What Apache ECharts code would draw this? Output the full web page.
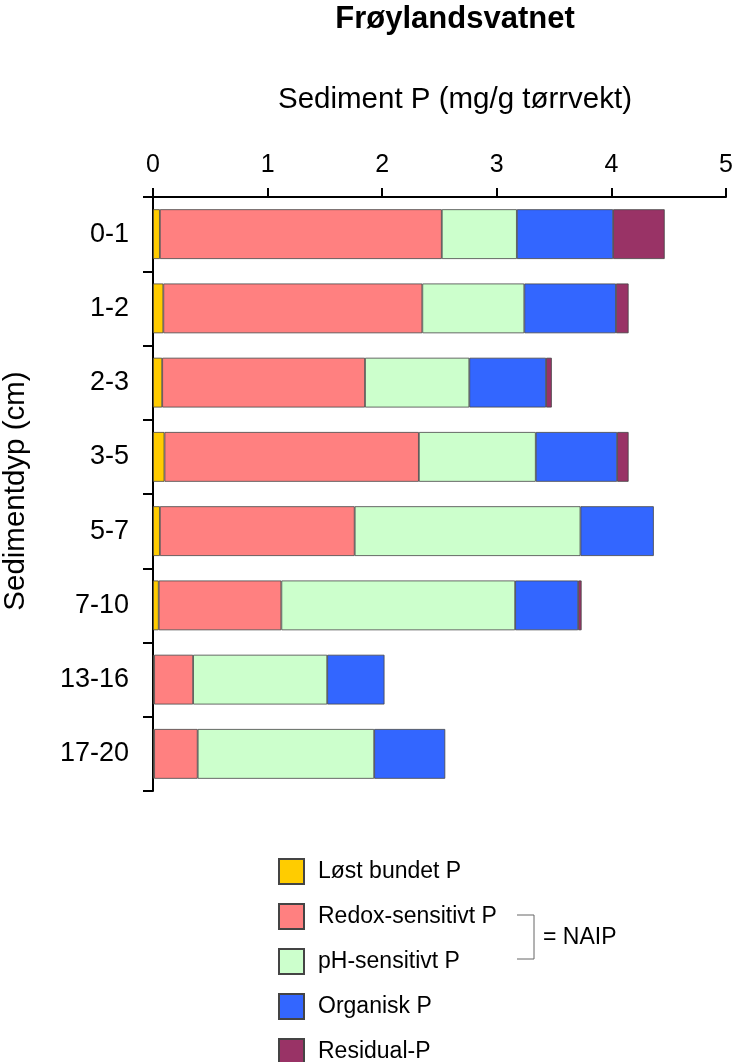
<!DOCTYPE html>
<html>
<head>
<meta charset="utf-8">
<script src="https://cdn.jsdelivr.net/npm/echarts@6/dist/echarts.min.js"></script>
<style>
html,body{margin:0;padding:0;background:#fff;}
#chart{width:733px;height:1062px;}
</style>
</head>
<body>
<div id="chart"></div>
<script>
const categories = ['0-1', '1-2', '2-3', '3-5', '5-7', '7-10', '13-16', '17-20'];
const seriesNames = ['Løst bundet P', 'Redox-sensitivt P', 'pH-sensitivt P', 'Organisk P', 'Residual-P'];
const lostBundet = [0.06, 0.09, 0.08, 0.10, 0.06, 0.05, 0.01, 0.01];
const redoxSensitivt = [2.46, 2.26, 1.77, 2.22, 1.70, 1.07, 0.34, 0.38];
const phSensitivt = [0.655, 0.89, 0.91, 1.02, 1.97, 2.04, 1.17, 1.54];
const organisk = [0.84, 0.80, 0.67, 0.71, 0.64, 0.55, 0.50, 0.62];
const residual = [0.45, 0.11, 0.05, 0.10, 0, 0.03, 0, 0];
const xTicks = [0, 1, 2, 3, 4, 5];
const colors = ['#FFCC00', '#FF8080', '#CCFFCC', '#3366FF', '#993366'];

const FONT = 'Liberation Sans, Arial, Helvetica, sans-serif';
const valuesList = [lostBundet, redoxSensitivt, phSensitivt, organisk, residual];

const chart = echarts.init(document.getElementById('chart'), null, {renderer: 'canvas'});
chart.setOption({
  backgroundColor: '#ffffff',
  animation: false,
  textStyle: {fontFamily: FONT, color: '#000'},
  title: {
    text: 'Frøylandsvatnet',
    left: 455,
    top: 4,
    textAlign: 'center',
    padding: 0,
    textStyle: {fontFamily: FONT, fontSize: 31, fontWeight: 'bold', color: '#000'}
  },
  grid: {left: 153, right: 7, top: 197, bottom: 271, containLabel: false, outerBoundsMode: 'none'},
  xAxis: {
    type: 'value',
    position: 'top',
    min: xTicks[0],
    max: xTicks[xTicks.length - 1],
    interval: 1,
    name: 'Sediment P (mg/g tørrvekt)',
    nameLocation: 'middle',
    nameGap: 82,
    nameTextStyle: {fontFamily: FONT, fontSize: 29.5, color: '#000', padding: [0, 0, 0, 31]},
    axisLine: {show: true, lineStyle: {color: '#000', width: 2}},
    axisTick: {show: true, length: 9, lineStyle: {color: '#000', width: 2}},
    axisLabel: {fontFamily: FONT, fontSize: 25, color: '#000', margin: 19},
    splitLine: {show: false}
  },
  yAxis: {
    type: 'category',
    data: categories,
    inverse: true,
    name: 'Sedimentdyp (cm)',
    nameLocation: 'middle',
    nameRotate: 90,
    nameGap: 122,
    nameTextStyle: {fontFamily: FONT, fontSize: 29.5, color: '#000', padding: [0, 0, 0, 6]},
    axisLine: {show: true, lineStyle: {color: '#000', width: 2}},
    axisTick: {show: true, length: 10, lineStyle: {color: '#000', width: 2}},
    axisLabel: {fontFamily: FONT, fontSize: 27, color: '#000', margin: 24},
    splitLine: {show: false}
  },
  legend: {
    orient: 'vertical',
    left: 278,
    top: 858,
    height: 230,
    padding: 0,
    itemWidth: 25,
    itemHeight: 25,
    itemGap: 18,
    icon: 'rect',
    data: seriesNames,
    textStyle: {fontFamily: FONT, fontSize: 23, lineHeight: 25, color: '#000', padding: [0, 0, 0, 9]}
  },
  series: seriesNames.map((name, i) => ({
    name: name,
    type: 'bar',
    stack: 'P',
    barCategoryGap: '33%',
    itemStyle: {color: colors[i], borderColor: '#444', borderWidth: 0.8},
    data: valuesList[i].map(v => (v === 0 ? null : v))
  })),
  graphic: [
    {
      type: 'polyline',
      shape: {points: [[517, 915], [534, 915], [534, 959], [517, 959]]},
      style: {stroke: '#666', lineWidth: 1, fill: null}
    },
    {
      type: 'text',
      x: 543,
      y: 938,
      style: {text: '= NAIP', fontFamily: FONT, fontSize: 23, fill: '#000', textVerticalAlign: 'middle', verticalAlign: 'middle'}
    }
  ]
});
</script>
</body>
</html>
